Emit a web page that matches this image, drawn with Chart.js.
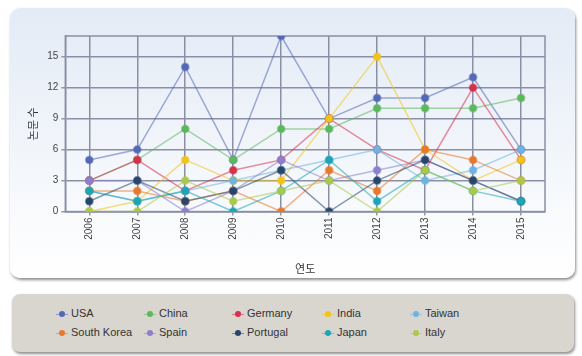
<!DOCTYPE html>
<html>
<head>
<meta charset="utf-8">
<script src="https://cdn.jsdelivr.net/npm/chart.js@4"></script>
<style>
  body { margin: 0; background: #ffffff; font-family: "Liberation Sans", Arial, sans-serif; }
  #panel {
    position: absolute; left: 10px; top: 8px; width: 565px; height: 270px;
    border-radius: 10px;
    background: linear-gradient(#e3ebf6, #f4f7fb 60%, #ffffff);
    box-shadow: 1px 2px 3px rgba(0,0,0,0.45);
  }
  #legend {
    position: absolute; left: 12px; top: 294px; width: 562px; height: 58px;
    border-radius: 8px; background: #d9d6d0;
    box-shadow: 1px 2px 3px rgba(0,0,0,0.45);
  }
  .item { position: absolute; font-size: 11px; color: #333; white-space: nowrap; }
  .mark { display: inline-block; position: relative; width: 12px; height: 8px; vertical-align: middle; margin-right: 3px; }
  .mark i { position: absolute; left: 0; top: 3.5px; width: 12px; height: 1px; }
  .mark b { position: absolute; left: 3px; top: 1px; width: 6px; height: 6px; border-radius: 50%; }
</style>
</head>
<body>
<div id="panel"><canvas id="line-chart" width="565" height="270"></canvas></div>
<div id="legend"></div>
<script>
const YEARS = ["2006", "2007", "2008", "2009", "2010", "2011", "2012", "2013", "2014", "2015"];
const Y_TICKS = [0, 3, 6, 9, 12, 15];

const USA = [5, 6, 14, 5, 17, 9, 11, 11, 13, 6];
const CHINA = [3, 5, 8, 5, 8, 8, 10, 10, 10, 11];
const GERMANY = [3, 5, 2, 4, 5, 9, 6, 4, 12, 5];
const INDIA = [0, 1, 5, 3, 3, 9, 15, 6, 3, 5];
const TAIWAN = [2, 1, 2, 3, 4, 5, 6, 3, 4, 6];
const SOUTH_KOREA = [2, 2, 1, 2, 0, 4, 2, 6, 5, 3];
const SPAIN = [3, 3, 0, 2, 5, 3, 4, 5, 3, 1];
const PORTUGAL = [1, 3, 1, 2, 4, 0, 3, 5, 3, 1];
const JAPAN = [2, 1, 2, 0, 2, 5, 1, 4, 2, 1];
const ITALY = [0, 0, 3, 1, 2, 3, 0, 4, 2, 3];

const SERIES = [
  { label: "USA", data: USA, color: "#5468b8" },
  { label: "China", data: CHINA, color: "#5cb85c" },
  { label: "Germany", data: GERMANY, color: "#d6304c" },
  { label: "India", data: INDIA, color: "#f0c419" },
  { label: "Taiwan", data: TAIWAN, color: "#6fb3e0" },
  { label: "South Korea", data: SOUTH_KOREA, color: "#e8782a" },
  { label: "Spain", data: SPAIN, color: "#8b80cc" },
  { label: "Portugal", data: PORTUGAL, color: "#27476a" },
  { label: "Japan", data: JAPAN, color: "#1ba6b6" },
  { label: "Italy", data: ITALY, color: "#a9c94c" },
];

const fade = (hex, a) => {
  const n = parseInt(hex.slice(1), 16);
  return `rgba(${n >> 16},${(n >> 8) & 255},${n & 255},${a})`;
};

// frame round the plot area (top and right edges)
const frame = {
  id: "frame",
  beforeDatasetsDraw(chart) {
    const { ctx, chartArea: a } = chart;
    ctx.save();
    ctx.strokeStyle = "#8a8fa6";
    ctx.lineWidth = 1.5;
    ctx.strokeRect(a.left, a.top, a.right - a.left, a.bottom - a.top);
    ctx.restore();
  },
};

const chart = new Chart(document.getElementById("line-chart"), {
  type: "line",
  data: {
    labels: YEARS,
    // later series sit on top, as in the original
    datasets: SERIES.map((s, i) => ({
      label: s.label,
      data: s.data,
      order: SERIES.length - i,
      borderColor: fade(s.color, 0.55),
      backgroundColor: s.color,
      pointBackgroundColor: s.color,
      pointBorderColor: fade(s.color, 0.5),
      borderWidth: 1.5,
      pointRadius: 3.5,
      pointBorderWidth: 2,
      fill: false,
      tension: 0,
    })),
  },
  options: {
    responsive: false,
    animation: false,
    layout: { padding: { left: 16, top: 28, right: 30, bottom: 0 } },
    plugins: {
      legend: { display: false },
      tooltip: { enabled: false },
    },
    scales: {
      x: {
        offset: true,
        grid: { offset: false, color: "#8a8fa6", lineWidth: 1.5, tickLength: 4, tickColor: "#999" },
        border: { color: "#8a8fa6", width: 1.5 },
        ticks: {
          minRotation: 90, maxRotation: 90, padding: 2,
          color: "#444", font: { size: 10, family: "Liberation Sans" },
        },
        title: {
          display: true, text: "연도", color: "#333", padding: { top: 20, bottom: 3 },
          font: { size: 11, family: "Noto Sans CJK KR" },
        },
      },
      y: {
        min: 0,
        max: 17,
        afterBuildTicks: (axis) => { axis.ticks = Y_TICKS.map((v) => ({ value: v })); },
        grid: { color: "#8a8fa6", lineWidth: 1.5, tickLength: 4, tickColor: "#999" },
        border: { color: "#8a8fa6", width: 1.5 },
        ticks: { color: "#444", padding: 3, font: { size: 10, family: "Liberation Sans" } },
        title: {
          display: true, text: "논문 수", color: "#333", padding: { top: 0, bottom: 5 },
          font: { size: 11, family: "Noto Sans CJK KR" },
        },
      },
    },
  },
  plugins: [frame],
});

// legend in its own box, built from the chart's datasets
const COL_X = [44, 132, 220, 310, 398];
const ROW_Y = [13, 32];
const legend = document.getElementById("legend");
chart.data.datasets.forEach((ds, i) => {
  const el = document.createElement("div");
  el.className = "item";
  el.style.left = COL_X[i % 5] + "px";
  el.style.top = ROW_Y[Math.floor(i / 5)] + "px";
  el.innerHTML = `<span class="mark"><i style="background:${ds.borderColor}"></i><b style="background:${ds.backgroundColor}"></b></span>${ds.label}`;
  legend.appendChild(el);
});
</script>
</body>
</html>
